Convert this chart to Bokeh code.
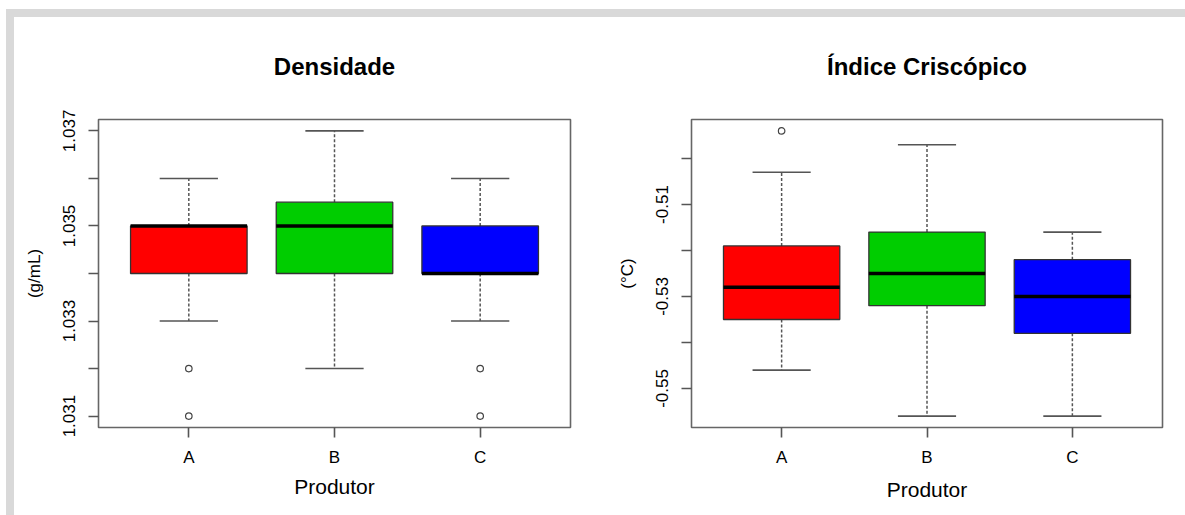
from bokeh.plotting import figure
from bokeh.models import (Range1d, FixedTicker, Title, Div, PrintfTickFormatter,
                          LinearAxis)
from bokeh.layouts import row, column
from bokeh.embed import file_html
from bokeh.resources import INLINE

# ---------------- data ----------------
categories = ["A", "B", "C"]
box_colors = ["#FF0000", "#00CD00", "#0000FF"]

dens_lower_whisker = [1.033, 1.032, 1.033]
dens_q1 = [1.034, 1.034, 1.034]
dens_median = [1.035, 1.035, 1.034]
dens_q3 = [1.035, 1.0355, 1.035]
dens_upper_whisker = [1.036, 1.037, 1.036]
dens_outlier_cat = ["A", "A", "C", "C"]
dens_outlier_val = [1.032, 1.031, 1.032, 1.031]
dens_ticks = [1.031, 1.033, 1.035, 1.037]
dens_minor_ticks = [1.032, 1.034, 1.036]

cris_lower_whisker = [-0.546, -0.556, -0.556]
cris_q1 = [-0.535, -0.532, -0.538]
cris_median = [-0.528, -0.525, -0.530]
cris_q3 = [-0.519, -0.516, -0.522]
cris_upper_whisker = [-0.503, -0.497, -0.516]
cris_outlier_cat = ["A"]
cris_outlier_val = [-0.494]
cris_ticks = [-0.55, -0.53, -0.51]
cris_minor_ticks = [-0.54, -0.52, -0.50]

FONT = "Liberation Sans"
LINE = "#555555"


def make_panel(title, ylabel, lw, q1, med, q3, uw, out_cat, out_val,
               ticks, minor_ticks, fmt, b_left, b_right, frame_w, xlab_standoff):
    xs = [i + 1 for i in range(len(categories))]
    allv = lw + uw + out_val
    lo, hi = min(allv), max(allv)
    pad = 0.04 * (hi - lo)
    n = len(categories)
    xpad = 0.04 * n
    p = figure(frame_width=frame_w, frame_height=308,
               x_range=Range1d(0.5 - xpad, n + 0.5 + xpad),
               y_range=Range1d(lo - pad, hi + pad),
               output_backend="svg", toolbar_location=None,
               min_border_left=b_left, min_border_right=b_right,
               min_border_top=102, min_border_bottom=88,
               background_fill_color="white", border_fill_color="white")
    p.xgrid.visible = False
    p.ygrid.visible = False
    p.outline_line_color = "#666666"
    p.outline_line_width = 1.6
    p.outline_line_alpha = 1.0

    # title: label of a tick-less axis above the frame
    ta = LinearAxis(ticker=FixedTicker(ticks=[]), axis_line_color=None,
                    major_tick_line_color=None, minor_tick_line_color=None,
                    major_label_standoff=0, major_label_text_font_size="0px",
                    axis_label=title, axis_label_standoff=40,
                    axis_label_text_font=FONT, axis_label_text_font_size="24px",
                    axis_label_text_font_style="bold",
                    axis_label_text_color="black")
    p.add_layout(ta, "above")
    # x label as bottom title
    xl = Title(text="Produtor", align="center", text_font=FONT, text_font_size="21px",
               text_font_style="normal", text_color="black",
               standoff=xlab_standoff)
    p.add_layout(xl, "below")

    # whiskers
    p.segment(x0=xs, y0=q3, x1=xs, y1=uw, line_color=LINE, line_width=1.5,
              line_dash="3 2")
    p.segment(x0=xs, y0=q1, x1=xs, y1=lw, line_color=LINE, line_width=1.5,
              line_dash="3 2")
    # staples
    p.segment(x0=[x - 0.2 for x in xs], y0=uw, x1=[x + 0.2 for x in xs], y1=uw,
              line_color=LINE, line_width=1.6)
    p.segment(x0=[x - 0.2 for x in xs], y0=lw, x1=[x + 0.2 for x in xs], y1=lw,
              line_color=LINE, line_width=1.6)
    # boxes
    p.vbar(x=xs, width=0.8, bottom=q1, top=q3, fill_color=box_colors,
           line_color="#333333", line_width=1.3)
    # medians
    p.segment(x0=[x - 0.4 for x in xs], y0=med, x1=[x + 0.4 for x in xs], y1=med,
              line_color="black", line_width=3.5)
    # outliers
    ox = [categories.index(c) + 1 for c in out_cat]
    p.scatter(x=ox, y=out_val, marker="circle", size=6.5, fill_color=None,
              line_color="#444444", line_width=1.2)

    # x axis
    xa = p.below[0]
    xa.ticker = FixedTicker(ticks=xs)
    xa.major_label_overrides = {x: c for x, c in zip(xs, categories)}
    xa.axis_line_color = None
    xa.major_tick_out = 10
    xa.major_tick_in = 0
    xa.major_tick_line_color = LINE
    xa.major_tick_line_width = 1.6
    xa.minor_tick_line_color = None
    xa.major_label_standoff = 10
    xa.major_label_text_font = FONT
    xa.major_label_text_font_size = "17px"
    xa.major_label_text_color = "black"

    # y axis
    ya = p.left[0]
    ya.ticker = FixedTicker(ticks=ticks, minor_ticks=minor_ticks)
    ya.formatter = PrintfTickFormatter(format=fmt)
    ya.axis_line_color = None
    ya.major_tick_out = 10
    ya.major_tick_in = 0
    ya.minor_tick_out = 10
    ya.minor_tick_in = 0
    ya.major_tick_line_color = LINE
    ya.minor_tick_line_color = LINE
    ya.major_tick_line_width = 1.6
    ya.minor_tick_line_width = 1.6
    ya.major_label_orientation = "vertical"
    ya.major_label_standoff = 13
    ya.major_label_text_font = FONT
    ya.major_label_text_font_size = "17px"
    ya.major_label_text_color = "black"
    ya.axis_label = ylabel
    ya.axis_label_text_font = FONT
    ya.axis_label_text_font_size = "17px"
    ya.axis_label_text_font_style = "normal"
    ya.axis_label_text_color = "black"
    ya.axis_label_standoff = 17
    return p


p1 = make_panel("Densidade", "(g/mL)", dens_lower_whisker, dens_q1, dens_median,
                dens_q3, dens_upper_whisker, dens_outlier_cat, dens_outlier_val,
                dens_ticks, dens_minor_ticks, "%.3f", 84, 35, 472, 6)
p2 = make_panel("Índice Criscópico", "(°C)", cris_lower_whisker, cris_q1, cris_median,
                cris_q3, cris_upper_whisker, cris_outlier_cat, cris_outlier_val,
                cris_ticks, cris_minor_ticks, "%.2f", 86, 23, 471, 12)

top_bar = Div(text="", width=1179, height=8, margin=0,
              styles={"background-color": "#d9d9d9"})
left_bar = Div(text="", width=8, height=498, margin=0,
               styles={"background-color": "#d9d9d9"})
layout = column(top_bar, row(left_bar, p1, p2, spacing=0), spacing=0,
                margin=(9, 0, 0, 6))

open("out.html", "w").write(file_html(layout, INLINE))
